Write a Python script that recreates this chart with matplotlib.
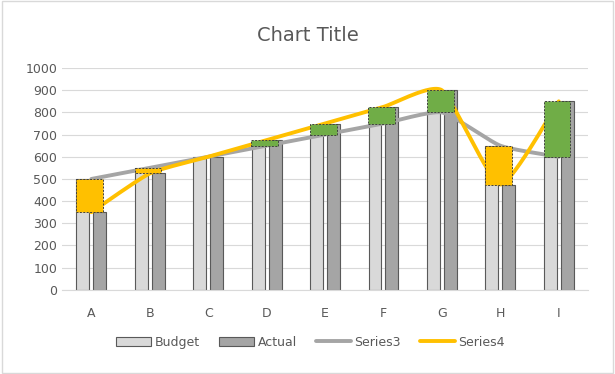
import numpy as np
import matplotlib.pyplot as plt
from matplotlib.patches import Rectangle

categories = ['A', 'B', 'C', 'D', 'E', 'F', 'G', 'H', 'I']
budget = [500, 550, 600, 650, 700, 750, 800, 650, 600]
actual = [350, 525, 600, 675, 750, 825, 900, 475, 850]
y_ticks = list(range(0, 1001, 100))


# smooth curve through the points, like Excel's "smoothed line"
def smooth(xs, ys, n=30, tension=0.09):
    xs = np.asarray(xs, float)
    ys = np.asarray(ys, float)
    px = np.concatenate([[xs[0]], xs, [xs[-1]]])
    py = np.concatenate([[ys[0]], ys, [ys[-1]]])
    out_x, out_y = [], []
    for i in range(1, len(px) - 2):
        p0 = np.array([px[i], py[i]])
        p3 = np.array([px[i + 1], py[i + 1]])
        p1 = p0 + tension * (np.array([px[i + 1], py[i + 1]]) - np.array([px[i - 1], py[i - 1]]))
        p2 = p3 - tension * (np.array([px[i + 2], py[i + 2]]) - np.array([px[i], py[i]]))
        t = np.linspace(0, 1, n)[:, None]
        pts = (1 - t)**3 * p0 + 3 * (1 - t)**2 * t * p1 + 3 * (1 - t) * t**2 * p2 + t**3 * p3
        out_x.extend(pts[:, 0])
        out_y.extend(pts[:, 1])
    return out_x, out_y


fig = plt.figure(figsize=(6.15, 3.74), dpi=100)
fig.patches.append(Rectangle((0.003, 0.004), 0.994, 0.992, transform=fig.transFigure,
                             fill=False, edgecolor='#D9D9D9', linewidth=1))
ax = fig.add_axes([0.101, 0.225, 0.855, 0.593])

x = np.arange(len(categories))
w = 0.22
ax.bar(x - 0.145, budget, w, color='#D9D9D9', edgecolor='#595959', linewidth=0.8,
       label='Budget', zorder=2)
ax.bar(x + 0.145, actual, w, color='#A5A5A5', edgecolor='#595959', linewidth=0.8,
       label='Actual', zorder=2)

sx, sy = smooth(x, budget)
ax.plot(sx, sy, color='#A5A5A5', linewidth=2.8, label='Series3', zorder=3,
        solid_capstyle='round')
sx, sy = smooth(x, actual)
ax.plot(sx, sy, color='#FFC000', linewidth=2.8, label='Series4', zorder=3,
        solid_capstyle='round')

# up/down bars between budget and actual
for xi, b, a in zip(x, budget, actual):
    if a == b:
        continue
    col = '#70AD47' if a > b else '#FFC000'
    ax.bar(xi - 0.03, a - b, 0.46, bottom=b, color=col, edgecolor='#404040',
           linewidth=0.7, linestyle=(0, (2, 1.5)), zorder=4)

ax.set_xlim(-0.5, len(categories) - 0.5)
ax.set_ylim(0, 1000)
ax.set_xticks(x)
ax.set_xticklabels(categories)
ax.set_yticks(y_ticks)
ax.tick_params(axis='both', length=0, labelsize=9, colors='#595959')
ax.tick_params(axis='x', pad=12)
ax.grid(axis='y', color='#D9D9D9', linewidth=0.8, zorder=0)
ax.set_axisbelow(True)
for s in ['top', 'right', 'left']:
    ax.spines[s].set_visible(False)
ax.spines['bottom'].set_color('#D9D9D9')

fig.text(0.5, 0.905, 'Chart Title', ha='center', va='center', fontsize=14, color='#595959')

handles, labels = ax.get_legend_handles_labels()
order = [2, 3, 0, 1]
h = [handles[i] for i in order]
l = [labels[i] for i in order]
leg = fig.legend(h, l, loc='center', bbox_to_anchor=(0.505, 0.085), ncol=4, frameon=False,
                 fontsize=9, handlelength=2.8, handleheight=0.7, columnspacing=1.5,
                 handletextpad=0.3)
for t in leg.get_texts():
    t.set_color('#595959')

fig.savefig('out.png', dpi=100)
